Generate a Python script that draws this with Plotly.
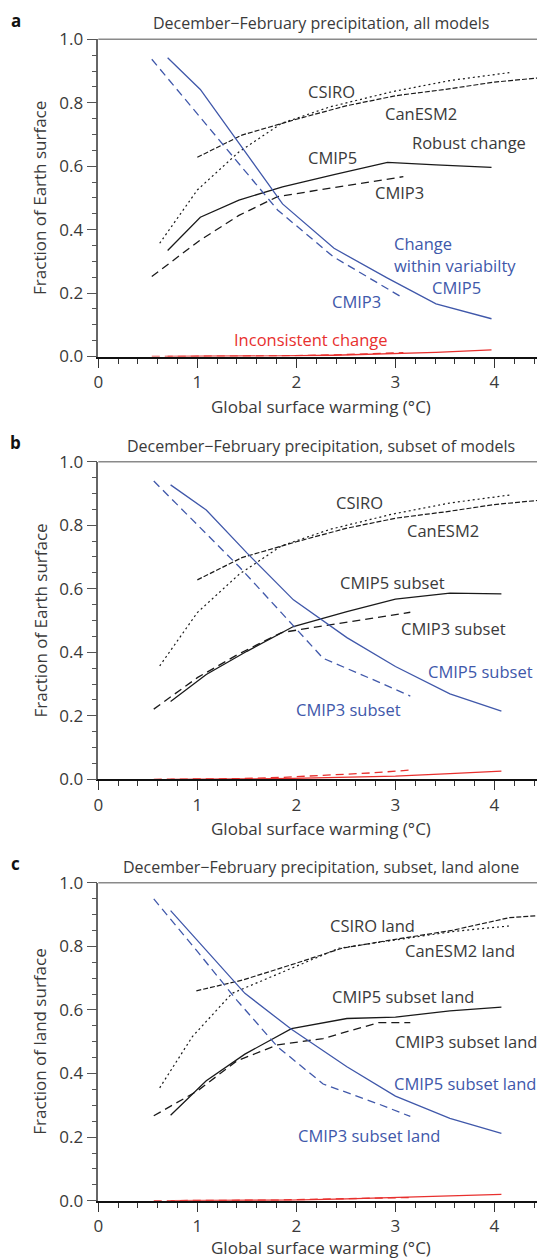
import plotly.graph_objects as go

# ---------------- data ----------------
# Panel a: all models
a_x5 = [0.70, 1.03, 1.42, 1.86, 2.38, 2.92, 3.41, 3.97]
a_robust5 = [0.334, 0.439, 0.493, 0.535, 0.573, 0.612, 0.604, 0.596]
a_within5 = [0.942, 0.842, 0.673, 0.481, 0.341, 0.247, 0.166, 0.119]
a_incons5 = [0.0, 0.0, 0.0, 0.002, 0.004, 0.008, 0.013, 0.021]
a_x3 = [0.54, 1.02, 1.42, 1.81, 2.37, 2.85, 3.08]
a_robust3 = [0.252, 0.365, 0.445, 0.504, 0.532, 0.556, 0.567]
a_within3 = [0.937, 0.757, 0.607, 0.462, 0.315, 0.226, 0.184]
a_incons3 = [0.0, 0.0, 0.001, 0.002, 0.005, 0.009, 0.012]

csiro_x = [0.62, 1.0, 1.42, 1.85, 2.34, 2.97, 3.55, 4.15]
csiro_y = [0.357, 0.525, 0.645, 0.735, 0.787, 0.835, 0.870, 0.895]
canesm_x = [1.0, 1.45, 2.0, 2.5, 3.0, 3.5, 4.0, 4.5]
canesm_y = [0.628, 0.698, 0.748, 0.790, 0.822, 0.842, 0.865, 0.880]

# Panel b: subset of models
b_x5 = [0.73, 1.09, 1.50, 1.97, 2.51, 3.00, 3.55, 4.07]
b_robust5 = [0.245, 0.330, 0.403, 0.481, 0.528, 0.567, 0.586, 0.584]
b_within5 = [0.927, 0.848, 0.713, 0.565, 0.446, 0.355, 0.269, 0.215]
b_incons5 = [0.0, 0.0, 0.001, 0.003, 0.006, 0.010, 0.018, 0.026]
b_x3 = [0.56, 1.0, 1.42, 1.85, 2.27, 2.75, 3.15]
b_robust3 = [0.221, 0.320, 0.395, 0.462, 0.483, 0.507, 0.526]
b_within3 = [0.939, 0.802, 0.670, 0.524, 0.381, 0.317, 0.262]
b_incons3 = [0.0, 0.0, 0.002, 0.006, 0.012, 0.020, 0.029]

# Panel c: subset, land alone
c_x5 = [0.73, 1.09, 1.48, 1.95, 2.51, 3.00, 3.55, 4.07]
c_robust5 = [0.269, 0.377, 0.461, 0.541, 0.573, 0.577, 0.597, 0.609]
c_within5 = [0.912, 0.787, 0.652, 0.539, 0.421, 0.329, 0.259, 0.212]
c_incons5 = [0.0, 0.0, 0.0, 0.002, 0.006, 0.010, 0.014, 0.020]
c_x3 = [0.56, 1.0, 1.40, 1.81, 2.27, 2.83, 3.15]
c_robust3 = [0.267, 0.345, 0.440, 0.490, 0.510, 0.560, 0.560]
c_within3 = [0.949, 0.784, 0.630, 0.484, 0.367, 0.304, 0.265]
c_incons3 = [0.0, 0.0, 0.0, 0.002, 0.005, 0.009, 0.010]

csiro_land_x = [0.62, 0.95, 1.35, 1.95, 2.43, 3.0, 3.57, 4.15]
csiro_land_y = [0.355, 0.516, 0.652, 0.730, 0.794, 0.820, 0.846, 0.864]
canesm_land_x = [0.99, 1.46, 1.99, 2.46, 3.0, 3.57, 4.15, 4.5]
canesm_land_y = [0.660, 0.694, 0.746, 0.794, 0.822, 0.850, 0.890, 0.898]

titles = ["December\u2212February precipitation, all models",
          "December\u2212February precipitation, subset of models",
          "December\u2212February precipitation, subset, land alone"]
ytitles = ["Fraction of Earth surface", "Fraction of Earth surface", "Fraction of land surface"]
panel_letters = ["a", "b", "c"]
xtitle = "Global surface warming (\u00b0C)"

# ---------------- style ----------------
W, H = 545, 1259
OFF = 8.0  # page body margin: figure origin sits at (8, 8) on the page
FONT = "Open Sans"
TXT = "#3a3a3a"
BLUE = "#4058aa"
RED = "#e8302e"
BLACK = "#1a1a1a"

# positions in page pixels
x_left, x_right = 98.3, 544.0
panels_px = [(39.3, 356.5), (461.7, 779.3), (882.7, 1200.7)]  # (top, bottom)
xtitle_gap = [49.5, 49.5, 46.5]

def px(xp):
    return (xp - OFF) / W

def py(yp):
    return 1 - (yp - OFF) / H

fig = go.Figure()

def line(xs, ys, color, dash, k, width=1.3):
    fig.add_trace(go.Scatter(x=xs, y=ys, mode="lines",
                             line=dict(color=color, width=width, dash=dash),
                             xaxis="x" + ("" if k == 1 else str(k)),
                             yaxis="y" + ("" if k == 1 else str(k)),
                             showlegend=False, hoverinfo="skip"))

LONG = "8px,5px"
DOT = "2px,3px"
DASHDOT = "5px,2px"

panels = [
    (a_x5, a_robust5, a_within5, a_incons5, a_x3, a_robust3, a_within3, a_incons3,
     csiro_x, csiro_y, canesm_x, canesm_y),
    (b_x5, b_robust5, b_within5, b_incons5, b_x3, b_robust3, b_within3, b_incons3,
     csiro_x, csiro_y, canesm_x, canesm_y),
    (c_x5, c_robust5, c_within5, c_incons5, c_x3, c_robust3, c_within3, c_incons3,
     csiro_land_x, csiro_land_y, canesm_land_x, canesm_land_y),
]

for k, p in enumerate(panels, start=1):
    x5, r5, w5, i5, x3, r3, w3, i3, cx, cy, ex, ey = p
    line(cx, cy, BLACK, DOT, k, 1.2)
    line(ex, ey, BLACK, DASHDOT, k, 1.2)
    line(x3, r3, BLACK, LONG, k)
    line(x5, r5, BLACK, "solid", k)
    line(x3, w3, BLUE, LONG, k)
    line(x5, w5, BLUE, "solid", k)
    line(x3, i3, RED, LONG, k)
    line(x5, i5, RED, "solid", k)

layout = dict(width=W, height=H, margin=dict(l=0, r=0, t=0, b=0, pad=0),
              paper_bgcolor="white", plot_bgcolor="white",
              font=dict(family=FONT, color=TXT), showlegend=False)

annotations = []
shapes = []
for k, (top, bot) in enumerate(panels_px, start=1):
    xs = "" if k == 1 else str(k)
    layout["xaxis" + xs] = dict(
        domain=[px(x_left), px(x_right)], range=[0, 4.5], anchor="y" + xs,
        tickmode="array", tickvals=[0, 1, 2, 3, 4], ticktext=["0", "1", "2", "3", "4"],
        ticks="outside", ticklen=9, tickwidth=1.2, tickcolor="#333",
        minor=dict(dtick=0.2, tick0=0, ticks="outside", ticklen=5, tickwidth=1.1, tickcolor="#333"),
        showline=True, linecolor="#111", linewidth=2, showgrid=False, zeroline=False,
        automargin=False,
        tickfont=dict(size=17, color=TXT, family=FONT), fixedrange=True)
    layout["yaxis" + xs] = dict(
        domain=[py(bot), py(top)], range=[0, 1.0], anchor="x" + xs,
        tickmode="array", tickvals=[0, 0.2, 0.4, 0.6, 0.8, 1.0],
        ticktext=["0.0", "0.2", "0.4", "0.6", "0.8", "1.0"],
        ticks="outside", ticklen=10, tickwidth=1.2, tickcolor="#555",
        minor=dict(dtick=0.05, tick0=0, ticks="outside", ticklen=5, tickwidth=1.1, tickcolor="#555"),
        showline=True, linecolor="#666", linewidth=1.5, showgrid=False, zeroline=False,
        automargin=False,
        tickfont=dict(size=17, color=TXT, family=FONT), fixedrange=True)
    # frame (top and right)
    shapes.append(dict(type="line", xref="x" + xs + " domain", yref="y" + xs + " domain",
                       x0=0, x1=1, y0=1, y1=1, line=dict(color="#8a8a8a", width=1.5)))
    shapes.append(dict(type="line", xref="x" + xs + " domain", yref="y" + xs + " domain",
                       x0=1, x1=1, y0=0, y1=1, line=dict(color="#8a8a8a", width=1.5)))
    cx_mid = (x_left + x_right) / 2
    annotations.append(dict(text=titles[k - 1], xref="paper", yref="paper",
                            x=px(cx_mid), y=py(top - 16),
                            xanchor="center", yanchor="middle", showarrow=False,
                            font=dict(size=16, color=TXT, family=FONT)))
    annotations.append(dict(text="<b>" + panel_letters[k - 1] + "</b>", xref="paper", yref="paper",
                            x=px(15.5), y=py(top - 19), xanchor="center", yanchor="middle",
                            showarrow=False, font=dict(size=17, color="#111", family=FONT)))
    annotations.append(dict(text=xtitle, xref="paper", yref="paper",
                            x=px(cx_mid), y=py(bot + xtitle_gap[k - 1]),
                            xanchor="center", yanchor="middle", showarrow=False,
                            font=dict(size=17, color=TXT, family=FONT)))
    annotations.append(dict(text=ytitles[k - 1], xref="paper", yref="paper",
                            x=px(40), y=py((top + bot) / 2), textangle=-90,
                            xanchor="center", yanchor="middle", showarrow=False,
                            font=dict(size=17, color=TXT, family=FONT)))

def lab(k, x, y, text, color=TXT, xanchor="center"):
    xs = "" if k == 1 else str(k)
    annotations.append(dict(text=text, x=x, y=y, xref="x" + xs, yref="y" + xs,
                            xanchor=xanchor, yanchor="middle", showarrow=False,
                            font=dict(size=16.5, color=color, family=FONT)))

# panel a labels
lab(1, 2.35, 0.837, "CSIRO")
lab(1, 3.26, 0.766, "CanESM2")
lab(1, 3.74, 0.675, "Robust change")
lab(1, 2.36, 0.626, "CMIP5")
lab(1, 3.04, 0.516, "CMIP3")
lab(1, 2.97, 0.357, "Change", BLUE, "left")
lab(1, 2.97, 0.286, "within variabilty", BLUE, "left")
lab(1, 3.62, 0.218, "CMIP5", BLUE)
lab(1, 2.61, 0.173, "CMIP3", BLUE)
lab(1, 2.15, 0.053, "Inconsistent change", RED)
# panel b labels
lab(2, 2.64, 0.871, "CSIRO")
lab(2, 3.48, 0.783, "CanESM2")
lab(2, 2.97, 0.619, "CMIP5 subset")
lab(2, 3.59, 0.475, "CMIP3 subset")
lab(2, 3.86, 0.341, "CMIP5 subset", BLUE)
lab(2, 2.53, 0.221, "CMIP3 subset", BLUE)
# panel c labels
lab(3, 2.77, 0.864, "CSIRO land")
lab(3, 3.65, 0.788, "CanESM2 land")
lab(3, 3.08, 0.642, "CMIP5 subset land")
lab(3, 3.71, 0.500, "CMIP3 subset land")
lab(3, 3.70, 0.369, "CMIP5 subset land", BLUE)
lab(3, 2.73, 0.206, "CMIP3 subset land", BLUE)

layout["annotations"] = annotations
layout["shapes"] = shapes
fig.update_layout(**layout)
fig.write_html("out.html")
